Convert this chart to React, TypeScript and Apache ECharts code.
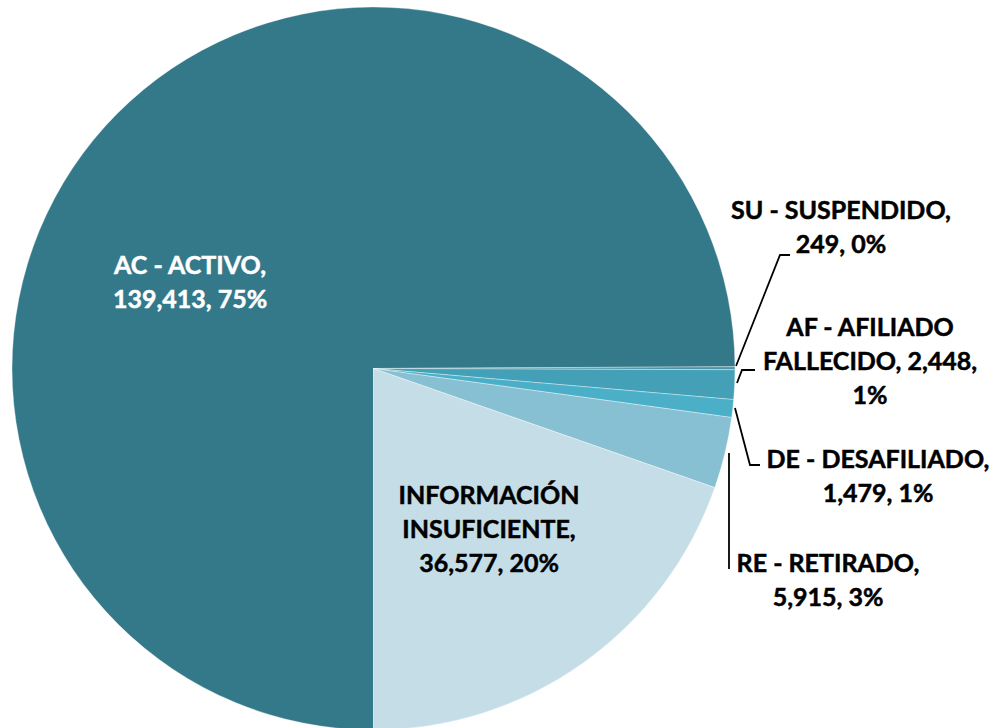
import React, { useEffect, useRef } from "react";
import * as echarts from "echarts";

const categories = [
  "AC - ACTIVO",
  "SU - SUSPENDIDO",
  "AF - AFILIADO FALLECIDO",
  "DE - DESAFILIADO",
  "RE - RETIRADO",
  "INFORMACIÓN INSUFICIENTE",
];
const values = [139413, 249, 2448, 1479, 5915, 36577];
// number of words on each wrapped line of the label "name, value, pct%"
const wordsPerLine = [[3, 2], [3, 2], [3, 2, 1], [3, 2], [3, 2], [1, 1, 2]];

export default function App() {
  const ref = useRef<HTMLDivElement>(null);

  useEffect(() => {
    if (!ref.current) return;
    const chart = echarts.init(ref.current, undefined, { renderer: "svg" });

    const colors = ["#34798A", "#4E93A6", "#44A0B6", "#4BAFC8", "#86C0D2", "#C5DDE7"];
    const inside = [true, false, false, false, false, true];
    const labelPos: number[][] = [
      [190, 281],
      [841, 226],
      [870, 360],
      [878, 475],
      [828, 579],
      [489, 528],
    ];
    const linePts: (number[][] | null)[] = [
      null,
      [[736, 366], [780, 255], [790, 255]],
      [[737, 383], [742, 370], [755, 370]],
      [[735, 408], [750, 465], [760, 465]],
      [[729, 453], [729, 511], [729, 569]],
      null,
    ];
    const font = "Lato";

    const data = categories.map((name, i) => {
      const c = i === 0 ? "#ffffff" : "#000000";
      return {
        name,
        value: values[i],
        itemStyle: { color: colors[i] },
        label: {
          position: inside[i] ? "inside" : "outside",
          color: c,
          textBorderColor: c,
          textBorderWidth: 0.5,
        },
        labelLine: { show: !inside[i] },
      };
    });

    chart.setOption({
      animation: false,
      series: [
        {
          type: "pie",
          center: [373.5, 368.5],
          radius: 361.5,
          startAngle: -90,
          clockwise: true,
          avoidLabelOverlap: false,
          itemStyle: { borderColor: "rgba(255,255,255,0.6)", borderWidth: 0.6 },
          label: {
            show: true,
            fontFamily: font,
            fontWeight: "bold",
            fontSize: 25,
            lineHeight: 34,
            align: "center",
            formatter: (p: any) => {
              const text = `${p.name}, ${Number(p.value).toLocaleString("en-US")}, ${Math.round(p.percent)}%`;
              const words = text.split(" ");
              const counts = wordsPerLine[p.dataIndex];
              const lines: string[] = [];
              let k = 0;
              counts.forEach((c) => {
                lines.push(words.slice(k, k + c).join(" "));
                k += c;
              });
              return lines.join("\n");
            },
          },
          labelLine: {
            show: true,
            lineStyle: { color: "#000000", width: 1.8 },
          },
          labelLayout: (params: any) => {
            const i = params.dataIndex;
            const out: any = {
              x: labelPos[i][0],
              y: labelPos[i][1],
              align: "center",
              verticalAlign: "middle",
            };
            if (linePts[i]) out.labelLinePoints = linePts[i];
            return out;
          },
          data,
        },
      ],
    });

    return () => chart.dispose();
  }, []);

  return (
    <div
      ref={ref}
      style={{ position: "fixed", left: 0, top: 0, width: 990, height: 728, background: "#ffffff" }}
    />
  );
}
